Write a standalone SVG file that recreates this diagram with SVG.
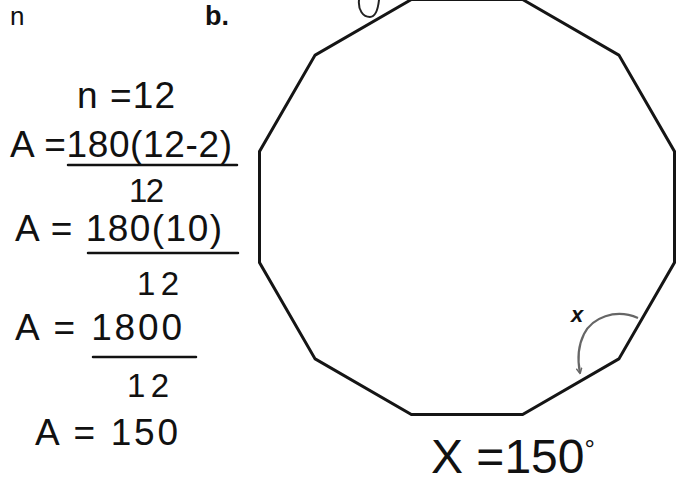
<svg xmlns="http://www.w3.org/2000/svg" width="677" height="485" viewBox="0 0 677 485">
<style>
.h{font-family:"Liberation Sans","DejaVu Sans",sans-serif;fill:#111;font-size:37px}
.d{font-size:33px}
.big{font-size:48px}
.bar{stroke:#111;stroke-width:2.5;fill:none;stroke-linecap:round}
</style>
<defs>
<marker id="ah" viewBox="0 0 10 10" refX="8" refY="5" markerWidth="7" markerHeight="7" orient="auto" markerUnits="userSpaceOnUse">
<path d="M1,1 L9,5 L1,9" fill="none" stroke="#666" stroke-width="2"/>
</marker>
</defs>
<rect width="677" height="485" fill="#fff"/>
<g id="header">
<text x="10" y="25" font-family="Liberation Sans, sans-serif" font-size="26" fill="#111">n</text>
<text x="205" y="25" font-family="Liberation Sans, sans-serif" font-weight="bold" font-size="27" fill="#111">b.</text>
</g>
<g id="work">
<text class="h" x="77" y="108" textLength="98">n =12</text>
<text class="h" x="10" y="157" textLength="222">A =180(12-2)</text>
<line class="bar" x1="68" y1="165" x2="237" y2="165"/>
<text class="h d" x="129" y="202" textLength="35">12</text>
<text class="h" x="15" y="241" textLength="207">A = 180(10)</text>
<line class="bar" x1="88" y1="253" x2="238" y2="253"/>
<text class="h d" x="137" y="295" textLength="42">12</text>
<text class="h" x="15" y="340" textLength="167">A = 1800</text>
<line class="bar" x1="93" y1="357" x2="196" y2="357"/>
<text class="h d" x="127" y="397" textLength="42">12</text>
<text class="h" x="35" y="445" textLength="143">A = 150</text>
</g>
<g id="dodecagon">
<polygon points="522.6,-0.5 618.9,55.1 674.5,151.4 674.5,262.6 618.9,358.9 522.6,414.5 411.4,414.5 315.1,358.9 259.5,262.6 259.5,151.4 315.1,55.1 411.4,-0.5" fill="none" stroke="#151515" stroke-width="3" stroke-linejoin="miter"/>
<path d="M359,0 C358,10 363,17 370,17 C376,17 378,9 379,0" fill="none" stroke="#222" stroke-width="2"/>
</g>
<g id="angle">
<path d="M638,318 C615,308 592,318 584,334 C578,346 577,358 580,373" fill="none" stroke="#666" stroke-width="2.2" marker-end="url(#ah)"/>
<text x="571" y="322" font-family="Liberation Sans, sans-serif" font-weight="bold" font-style="italic" font-size="22" fill="#111">x</text>
</g>
<g id="answer">
<text class="h big" x="431" y="473">X =150<tspan style="font-size:26px" dy="-15">°</tspan></text>
</g>
</svg>
